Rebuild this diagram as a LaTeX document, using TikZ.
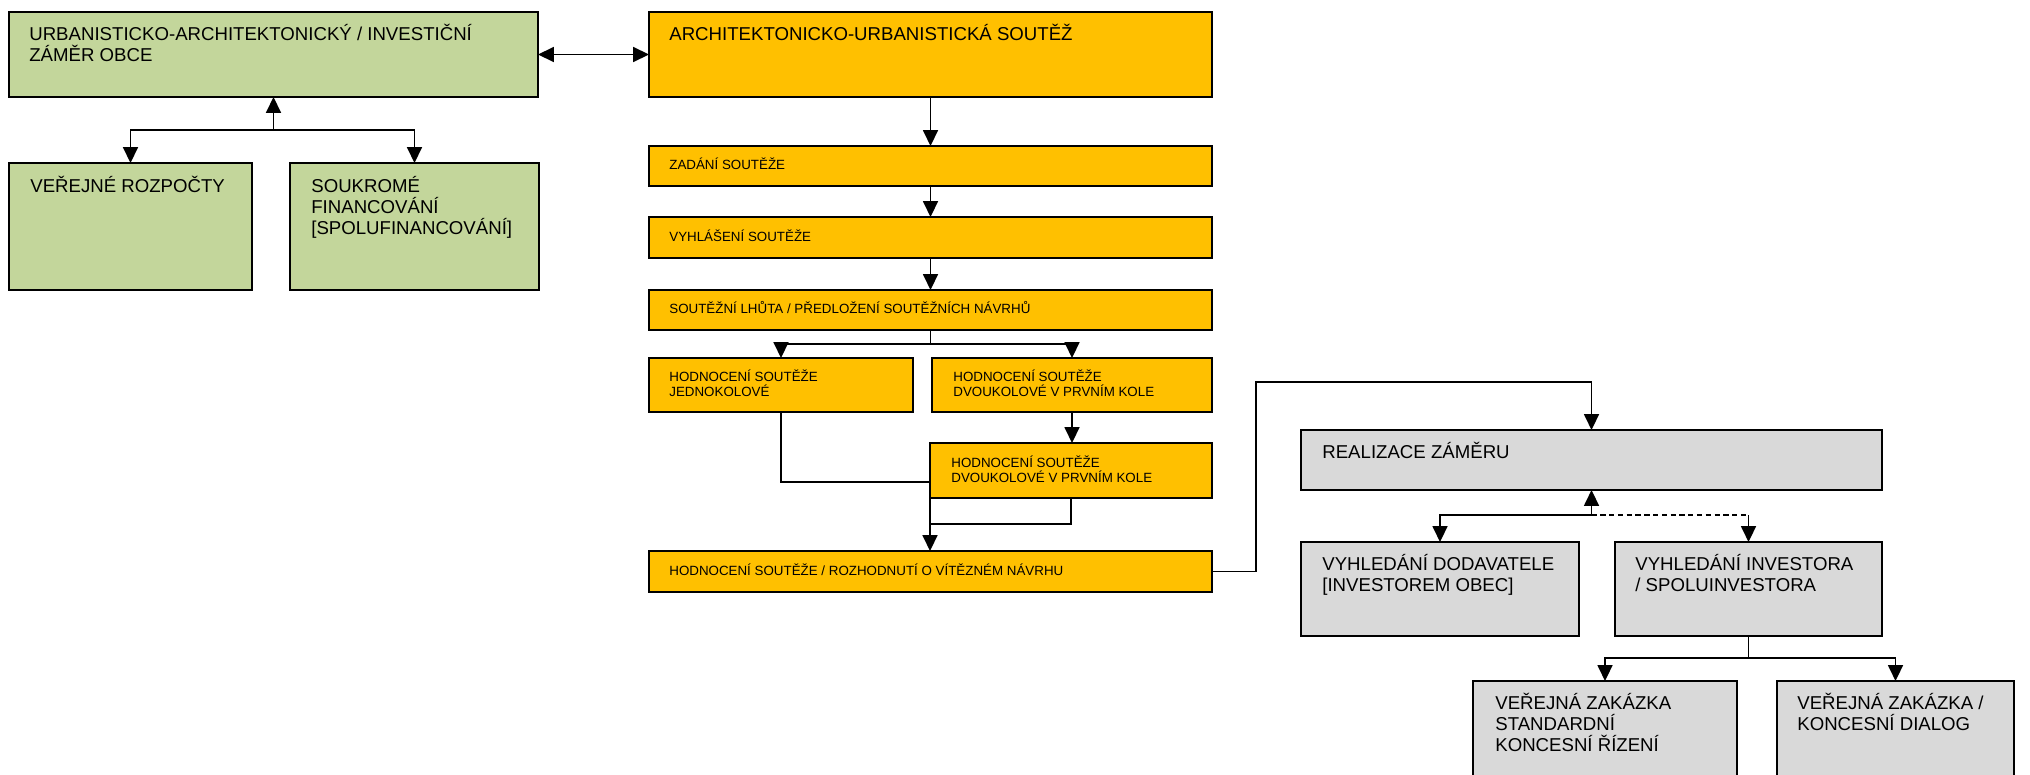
\documentclass[tikz,border=0pt]{standalone}
\usepackage{fontspec}
\setmainfont{Liberation Sans}
\usetikzlibrary{arrows.meta,calc}
\definecolor{zelena}{HTML}{C3D69B}
\definecolor{oranz}{HTML}{FFC000}
\definecolor{seda}{HTML}{D9D9D9}
\newcommand{\pxu}{0.02cm}
\begin{document}
\begin{tikzpicture}[x=0.02cm,y=-0.02cm,
  box/.style={draw,line width=0.9pt,inner sep=0pt,outer sep=0pt,anchor=north west},
  gbox/.style={box,fill=zelena},
  obox/.style={box,fill=oranz},
  sbox/.style={box,fill=seda},
  rozmer/.style 2 args={minimum width=#1*\pxu,minimum height=#2*\pxu},
  velky/.style={font=\fontsize{10.6}{11.9}\selectfont,anchor=base west,inner sep=0pt,align=left},
  maly/.style={font=\fontsize{7.6}{8.5}\selectfont,anchor=base west,inner sep=0pt,align=left},
  car/.style={line width=0.85pt},
  arr/.style={car,-{Triangle[length=9pt,width=8.5pt]}}]
\useasboundingbox (0,0) rectangle (2030,774);
\clip (0,0) rectangle (2030,774);

% zamer obce
\node[gbox,rozmer={529}{85}] (zamer) at (9,12) {};
\node[gbox,rozmer={243}{127}] (rozpocty) at (9,163) {};
\node[gbox,rozmer={249}{127}] (soukrome) at (290,163) {};

% soutez
\node[obox,rozmer={563}{85}] (soutez) at (649,12) {};
\node[obox,rozmer={563}{40}] (zadani) at (649,146) {};
\node[obox,rozmer={563}{41}] (vyhlaseni) at (649,217) {};
\node[obox,rozmer={563}{40}] (lhuta) at (649,290) {};
\node[obox,rozmer={264}{54}] (jedno) at (649,358) {};
\node[obox,rozmer={280}{54}] (dvou1) at (932,358) {};
\node[obox,rozmer={282}{55}] (dvou2) at (930,443) {};
\node[obox,rozmer={563}{41}] (vitez) at (649,551) {};

% realizace
\node[sbox,rozmer={581}{60}] (realizace) at (1301,430) {};
\node[sbox,rozmer={278}{94}] (dodavatel) at (1301,542) {};
\node[sbox,rozmer={267}{94}] (investor) at (1615,542) {};
\node[sbox,rozmer={264}{130}] (verejna1) at (1473,681) {};
\node[sbox,rozmer={237}{130}] (verejna2) at (1777,681) {};

% texty (base = posledni radek)
\node[velky] (zamer-t) at ($(zamer.north west)+(20,49)$) {URBANISTICKO-ARCHITEKTONICKÝ / INVESTIČNÍ\\ZÁMĚR OBCE};
\node[velky] (rozpocty-t) at ($(rozpocty.north west)+(21,29)$) {VEŘEJNÉ ROZPOČTY};
\node[velky] (soukrome-t) at ($(soukrome.north west)+(21,71)$) {SOUKROMÉ\\FINANCOVÁNÍ\\{[SPOLUFINANCOVÁNÍ]}};
\node[velky] (soutez-t) at ($(soutez.north west)+(20,28)$) {ARCHITEKTONICKO-URBANISTICKÁ SOUTĚŽ};
\node[maly] (zadani-t) at ($(zadani.north west)+(20,23)$) {ZADÁNÍ SOUTĚŽE};
\node[maly] (vyhlaseni-t) at ($(vyhlaseni.north west)+(20,24)$) {VYHLÁŠENÍ SOUTĚŽE};
\node[maly] (lhuta-t) at ($(lhuta.north west)+(20,23)$) {SOUTĚŽNÍ LHŮTA / PŘEDLOŽENÍ SOUTĚŽNÍCH NÁVRHŮ};
\node[maly] (jedno-t) at ($(jedno.north west)+(20,38)$) {HODNOCENÍ SOUTĚŽE\\JEDNOKOLOVÉ};
\node[maly] (dvou1-t) at ($(dvou1.north west)+(21,38)$) {HODNOCENÍ SOUTĚŽE\\DVOUKOLOVÉ V PRVNÍM KOLE};
\node[maly] (dvou2-t) at ($(dvou2.north west)+(21,39)$) {HODNOCENÍ SOUTĚŽE\\DVOUKOLOVÉ V PRVNÍM KOLE};
\node[maly] (vitez-t) at ($(vitez.north west)+(20,24)$) {HODNOCENÍ SOUTĚŽE / ROZHODNUTÍ O VÍTĚZNÉM NÁVRHU};
\node[velky] (realizace-t) at ($(realizace.north west)+(21,28)$) {REALIZACE ZÁMĚRU};
\node[velky] (dodavatel-t) at ($(dodavatel.north west)+(21,49)$) {VYHLEDÁNÍ DODAVATELE\\{[INVESTOREM OBEC]}};
\node[velky] (investor-t) at ($(investor.north west)+(20,49)$) {VYHLEDÁNÍ INVESTORA\\/ SPOLUINVESTORA};
\node[velky] (verejna1-t) at ($(verejna1.north west)+(22,70)$) {VEŘEJNÁ ZAKÁZKA\\STANDARDNÍ\\KONCESNÍ ŘÍZENÍ};
\node[velky] (verejna2-t) at ($(verejna2.north west)+(20,49)$) {VEŘEJNÁ ZAKÁZKA /\\KONCESNÍ DIALOG};

% spojnice vlevo
\draw[car,{Triangle[length=9pt,width=8.5pt]}-{Triangle[length=9pt,width=8.5pt]}] (zamer.east) -- (soutez.west);
\coordinate (rozcesti) at ($(zamer.south)+(0,33)$);
\draw[arr] (rozcesti) -- (zamer.south);
\draw[arr] (rozcesti) -| (rozpocty.north);
\draw[arr] (rozcesti) -| (soukrome.north);

% soutez
\foreach \a/\b in {soutez/zadani,zadani/vyhlaseni,vyhlaseni/lhuta}
  \draw[arr] (\a) -- (\b);
\coordinate (deleni) at ($(lhuta.south)+(0,14)$);
\draw[car] (lhuta.south) -- (deleni);
\draw[arr] (deleni) -| (jedno.north);
\draw[arr] (deleni) -| (dvou1.north);
\draw[arr] (dvou1.south) -- (dvou1.south |- dvou2.north);
\draw[car] (jedno.south) |- ($(dvou2.south west)+(0,-16)$);
\draw[car] (dvou2.south) -- ++(0,26) -| (dvou2.south west);
\draw[arr] (dvou2.south west) -- (dvou2.south west |- vitez.north);

% realizace
\coordinate (zlom) at (1256,382);
\draw[arr] (vitez.east) -| (zlom) -| (realizace.north);
\coordinate (vidlice) at ($(realizace.south)+(0,25)$);
\draw[arr] (vidlice) -- (realizace.south);
\draw[arr] (vidlice) -| (dodavatel.north);
\draw[car,densely dashed] (vidlice) -- (vidlice -| investor.north);
\draw[arr] (vidlice -| investor.north) -- (investor.north);
\coordinate (vidlice2) at ($(investor.south)+(0,22)$);
\draw[car] (investor.south) -- (vidlice2);
\draw[arr] (vidlice2) -| (verejna1.north);
\draw[arr] (vidlice2) -| (verejna2.north);
\end{tikzpicture}
\end{document}
